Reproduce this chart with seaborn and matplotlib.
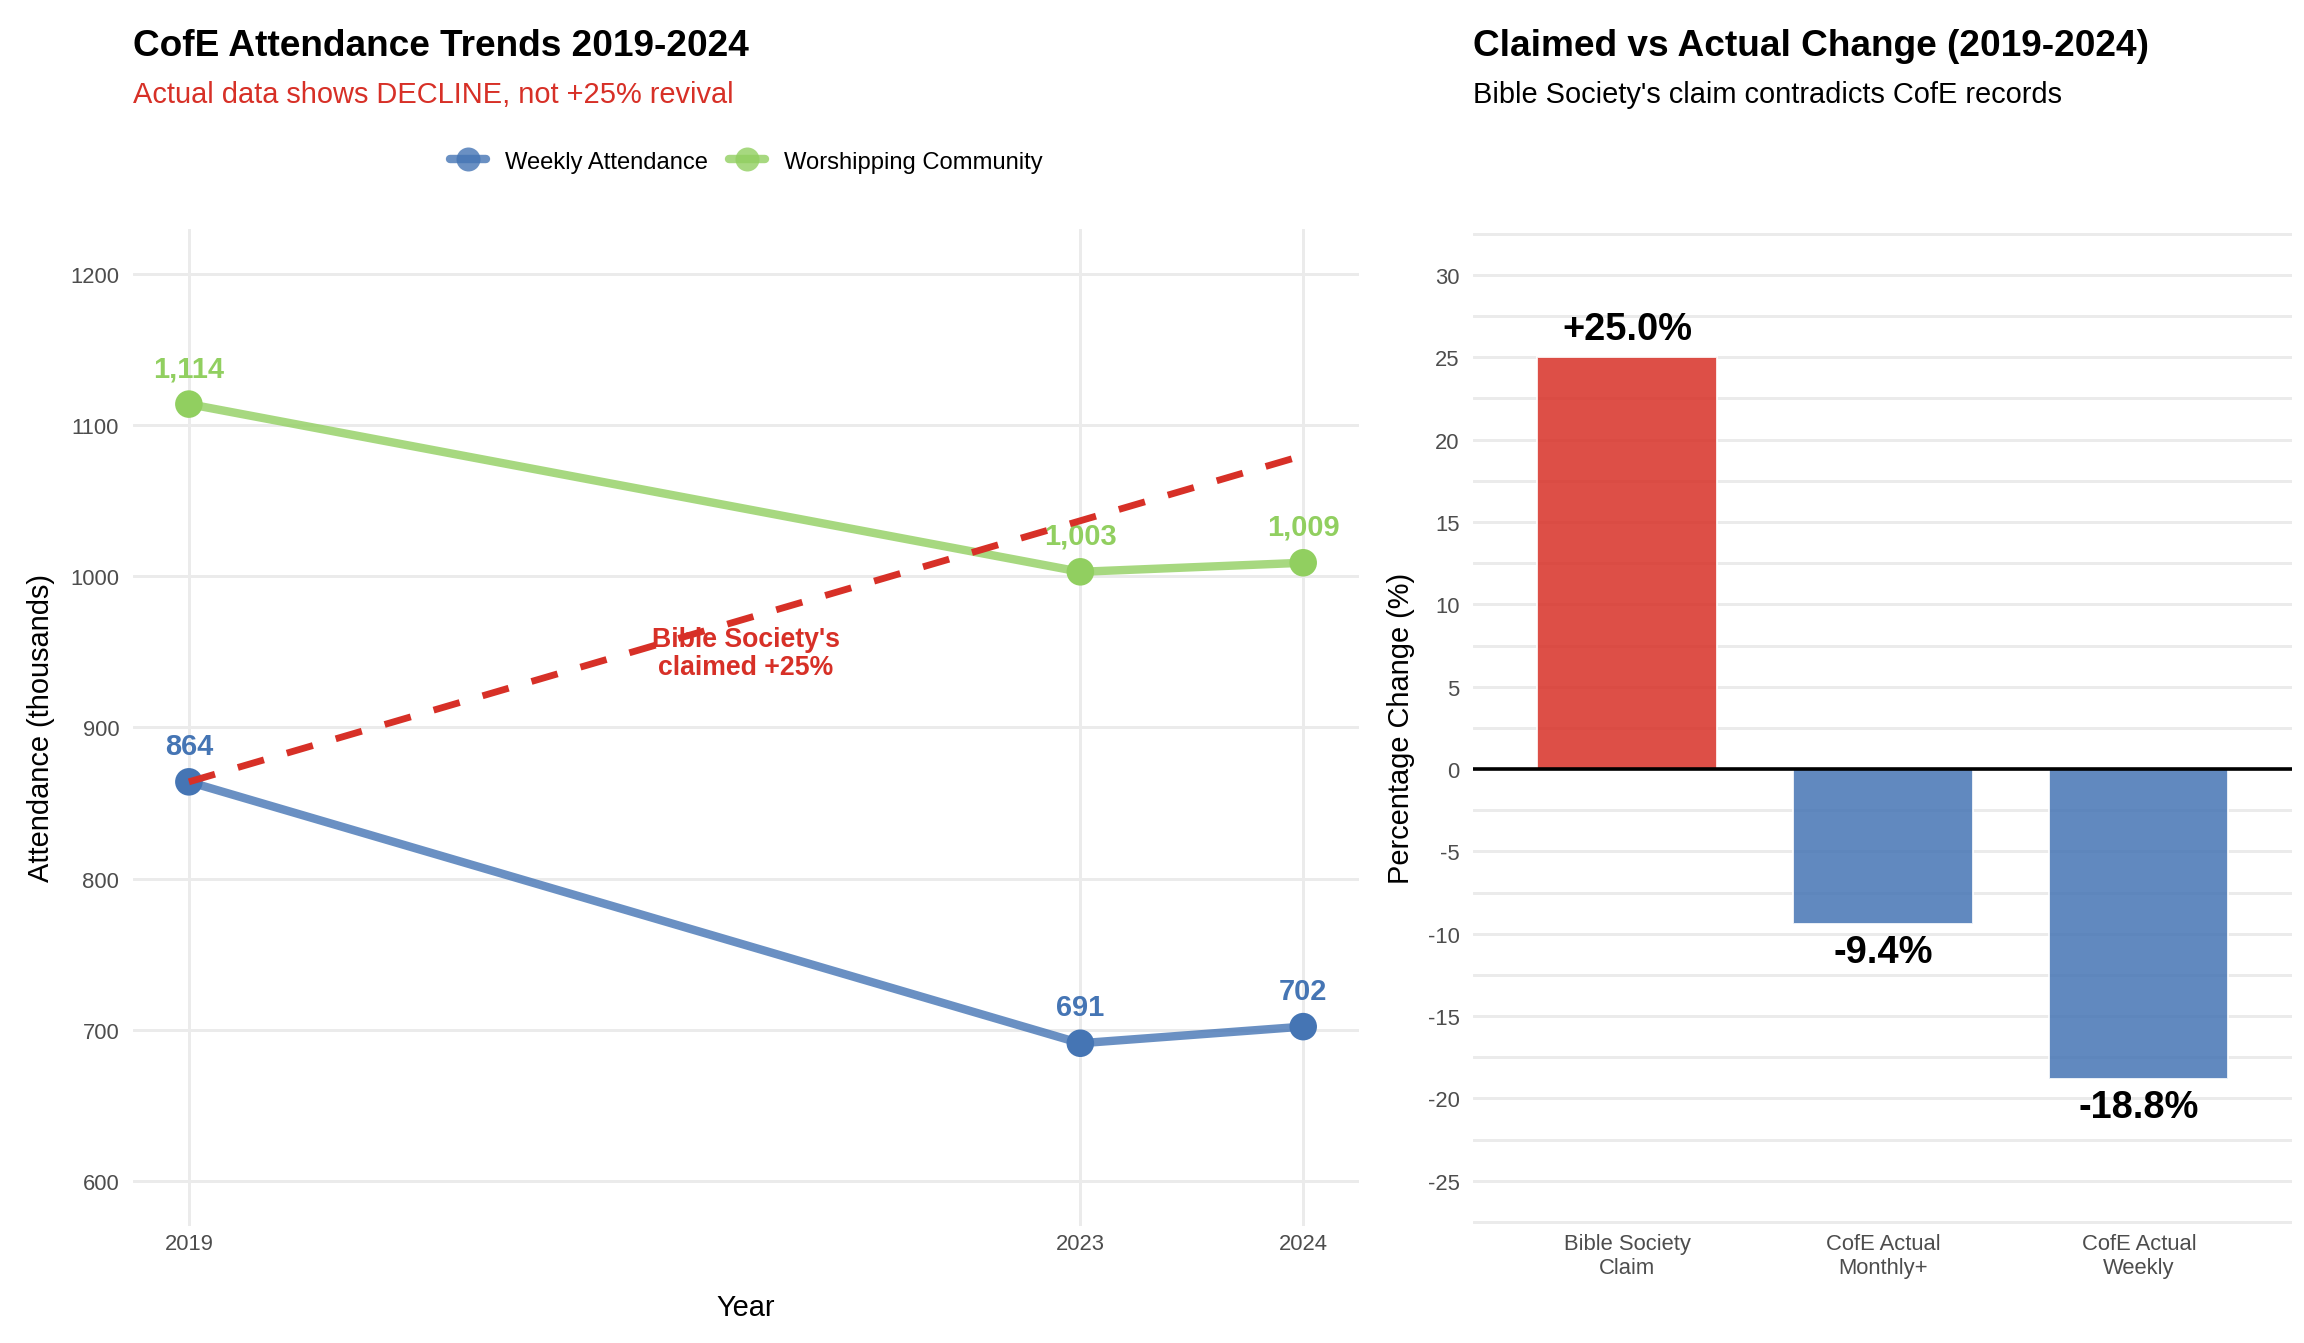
import matplotlib
matplotlib.use("Agg")
import matplotlib.pyplot as plt
from matplotlib.lines import Line2D
from matplotlib.ticker import MultipleLocator
import seaborn as sns
import pandas as pd

# data
years = [2019, 2023, 2024]
weekly = [864, 691, 702]
community = [1114, 1003, 1009]
claim_pct = 25
claim_years = [2019, 2024]
claim_values = [weekly[0], weekly[0] * (1 + claim_pct / 100)]

bar_labels = ["Bible Society\nClaim", "CofE Actual\nMonthly+", "CofE Actual\nWeekly"]
bar_values = [25.0, -9.4, -18.8]

blue = "#4575B4"
green = "#91CF60"
red = "#D73027"

sns.set_theme(style="white")
plt.rcParams["font.family"] = ["Liberation Sans", "DejaVu Sans"]
plt.rcParams["axes.unicode_minus"] = False
plt.rcParams["text.color"] = "black"
plt.rcParams["axes.labelcolor"] = "black"

df = pd.DataFrame({
    "Year": years * 2,
    "Attendance": weekly + community,
    "Series": ["Weekly Attendance"] * 3 + ["Worshipping Community"] * 3,
})
pal = {"Weekly Attendance": blue, "Worshipping Community": green}

fig = plt.figure(figsize=(16, 9.3333), dpi=144)
ax1 = fig.add_axes([0.0578, 0.087, 0.532, 0.742])
ax2 = fig.add_axes([0.6395, 0.087, 0.3555, 0.742])

grid_c = "#EBEBEB"
tick_c = "#4D4D4D"

# left panel: attendance lines
sns.lineplot(data=df, x="Year", y="Attendance", hue="Series", palette=pal,
             linewidth=4.2, alpha=0.8, legend=False, ax=ax1, zorder=3)
sns.scatterplot(data=df, x="Year", y="Attendance", hue="Series", palette=pal,
                s=190, edgecolor="none", legend=False, ax=ax1, zorder=4)

for vals, col in [(weekly, blue), (community, green)]:
    for x, v in zip(years, vals):
        ax1.annotate(f"{v:,}", (x, v), xytext=(0, 18), textcoords="offset points",
                     ha="center", va="center", fontsize=14.5, fontweight="bold",
                     color=col, zorder=5)

ax1.text(2021.5, 949, "Bible Society's\nclaimed +25%", ha="center", va="center",
         fontsize=13.3, fontweight="bold", color=red, linespacing=1.1, zorder=5)
ax1.plot(claim_years, claim_values, color=red, linewidth=3.4,
         linestyle=(0, (4, 3.5)), zorder=6)

ax1.set_xlim(2018.75, 2024.25)
ax1.set_ylim(570, 1230)
ax1.set_xticks(years)
ax1.set_yticks(range(600, 1201, 100))
ax1.grid(True, color=grid_c, linewidth=1.5)
ax1.set_axisbelow(True)
ax1.set_xlabel("Year", fontsize=14.5)
ax1.set_ylabel("Attendance (thousands)", fontsize=14.5)
ax1.xaxis.set_label_coords(0.5, -0.081)
ax1.xaxis.label.set_va("center")
ax1.yaxis.set_label_coords(-0.075, 0.5)
ax1.yaxis.label.set_va("center")

handles = [Line2D([0], [0], color=c, linewidth=4.2, alpha=0.8, marker="o",
                  markersize=12, markerfacecolor=c, markeredgecolor="none")
           for c in [blue, green]]
fig.legend(handles, list(pal.keys()), loc="center", bbox_to_anchor=(0.324, 0.879),
           ncol=2, frameon=False, fontsize=11.9, handlelength=1.5,
           columnspacing=0.9, handletextpad=0.8)

# right panel: claimed vs actual
sns.barplot(x=bar_labels, y=bar_values, hue=bar_labels,
            palette=[red, blue, blue], alpha=0.85, width=0.7, saturation=1,
            legend=False, ax=ax2, zorder=3)
ax2.axhline(0, color="black", linewidth=1.8, zorder=4)
for i, v in enumerate(bar_values):
    off = 14 if v > 0 else -14
    ax2.annotate(f"{v:+.1f}%" if v > 0 else f"{v:.1f}%", (i, v), xytext=(0, off),
                 textcoords="offset points", ha="center", va="center",
                 fontsize=19, fontweight="bold", color="black", zorder=5)

ax2.set_xlim(-0.6, 2.6)
ax2.set_yticks(range(-25, 31, 5))
ax2.yaxis.set_minor_locator(MultipleLocator(2.5))
ax2.set_ylim(-27.75, 32.8)
ax2.grid(True, axis="y", which="both", color=grid_c, linewidth=1.5)
ax2.set_axisbelow(True)
ax2.set_xlabel("")
ax2.set_ylabel("Percentage Change (%)", fontsize=14.5)
ax2.yaxis.set_label_coords(-0.089, 0.5)
ax2.yaxis.label.set_va("center")

for ax in (ax1, ax2):
    sns.despine(ax=ax, left=True, bottom=True)
    ax.tick_params(axis="both", which="both", length=0, labelsize=11,
                   labelcolor=tick_c)
    ax.tick_params(axis="y", pad=7)
    ax.tick_params(axis="x", pad=3.5)
for lab in ax2.get_xticklabels():
    lab.set_linespacing(1.2)

# titles
fig.text(0.0578, 0.958, "CofE Attendance Trends 2019-2024", fontsize=18.5,
         fontweight="bold", ha="left", va="baseline")
fig.text(0.0578, 0.923, "Actual data shows DECLINE, not +25% revival",
         fontsize=14.5, color=red, ha="left", va="baseline")
fig.text(0.6395, 0.958, "Claimed vs Actual Change (2019-2024)", fontsize=18.5,
         fontweight="bold", ha="left", va="baseline")
fig.text(0.6395, 0.923, "Bible Society's claim contradicts CofE records",
         fontsize=14.5, color="black", ha="left", va="baseline")

fig.savefig("out.png", dpi=144, facecolor="white")
